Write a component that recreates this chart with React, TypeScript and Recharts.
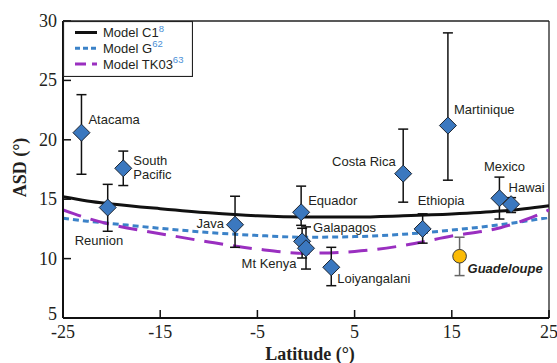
import React from "react";
import {
  ComposedChart,
  ErrorBar,
  Legend,
  Line,
  ReferenceLine,
  Scatter,
  XAxis,
  YAxis,
} from "recharts";

// latitude grid for the model curves
const latGrid = [-25, -22.5, -20, -15, -10, -5, 0, 5, 10, 15, 20, 22.5, 25];
const modelC1 = [15.2, 14.85, 14.6, 14.2, 13.85, 13.6, 13.5, 13.5, 13.6, 13.75, 14.0, 14.2, 14.45];
const modelG = [13.4, 13.15, 12.95, 12.55, 12.2, 11.95, 11.8, 11.85, 12.05, 12.4, 12.85, 13.15, 13.45];
const modelTK03 = [14.1, 13.4, 12.85, 12.1, 11.4, 10.8, 10.45, 10.6, 11.1, 11.9, 12.6, 13.25, 14.1];

// sites
const siteNames = [
  "Atacama", "South Pacific", "Reunion", "Java", "Equador", "Galapagos", "Mt Kenya",
  "Loiyangalani", "Ethiopia", "Costa Rica", "Martinique", "Mexico", "Hawai",
];
const siteLat = [-23.1, -18.8, -20.4, -7.3, -0.5, -0.4, 0.0, 2.6, 12.0, 10.0, 14.6, 19.9, 21.1];
const siteAsd = [20.6, 17.6, 14.3, 12.85, 13.9, 11.45, 10.87, 9.27, 12.5, 17.15, 21.2, 15.08, 14.58];
const siteErrLow = [3.5, 1.45, 2.0, 1.9, 1.1, 1.4, 1.75, 1.55, 1.2, 2.4, 4.6, 1.75, 0.7];
const siteErrHigh = [3.2, 1.45, 1.95, 2.4, 2.2, 1.1, 1.8, 1.68, 1.27, 3.75, 7.8, 1.78, 0.55];

// this study
const newSiteName = "Guadeloupe";
const newSiteLat = 15.8;
const newSiteAsd = 10.2;
const newSiteErr = [1.63, 1.6];

const xTicks = [-25, -15, -5, 5, 15, 25];
const yTicks = [5, 10, 15, 20, 25, 30];

const modelRefs: Record<string, string> = {
  "Model C1": "8",
  "Model G": "62",
  "Model TK03": "63",
};

const curve = (vals: number[]) => latGrid.map((lat, i) => ({ lat, asd: vals[i] }));
const siteData = siteNames.map((name, i) => ({
  name,
  lat: siteLat[i],
  asd: siteAsd[i],
  err: [siteErrLow[i], siteErrHigh[i]],
}));
const newSiteData = [{ name: newSiteName, lat: newSiteLat, asd: newSiteAsd, err: newSiteErr }];

const SANS = "Liberation Sans, Arial, sans-serif";
const SERIF = "Liberation Serif, Times New Roman, serif";
const INK = "#231f20";

// label placement relative to the marker
const labelLayout: Record<string, { dx: number; dy: number; anchor?: string; lines?: string[] }> = {
  Atacama: { dx: 7, dy: -13 },
  "South Pacific": { dx: 10, dy: -7.5, lines: ["South", "Pacific"] },
  Reunion: { dx: -33, dy: 33 },
  Java: { dx: -11, dy: -1, anchor: "end" },
  Equador: { dx: 7, dy: -12 },
  Galapagos: { dx: 11, dy: -13.5 },
  "Mt Kenya": { dx: -9.5, dy: 15, anchor: "end" },
  Loiyangalani: { dx: 6, dy: 11 },
  Ethiopia: { dx: -5, dy: -28.5 },
  "Costa Rica": { dx: -7.5, dy: -12, anchor: "end" },
  Martinique: { dx: 6, dy: -16 },
  Mexico: { dx: -15.5, dy: -31.5 },
  Hawai: { dx: -2.5, dy: -17 },
};

const SiteMarker = (props: any) => {
  const { cx, cy, payload } = props;
  const r = 8.5;
  const lay = labelLayout[payload.name] || { dx: 8, dy: 0 };
  const lines = lay.lines || [payload.name];
  const tx = cx + lay.dx;
  return (
    <g>
      <polygon
        points={`${cx},${cy - r} ${cx + r},${cy} ${cx},${cy + r} ${cx - r},${cy}`}
        fill="#3b78bf"
        stroke="#1c2430"
        strokeWidth={1}
      />
      {lines.map((t, i) => (
        <text
          key={t}
          x={tx}
          y={cy + lay.dy + 4.5 + i * 14}
          textAnchor={lay.anchor || "start"}
          fontFamily={SANS}
          fontSize={13}
          fill={INK}
        >
          {t}
        </text>
      ))}
    </g>
  );
};

const NewSiteMarker = (props: any) => {
  const { cx, cy, payload } = props;
  return (
    <g>
      <circle cx={cx} cy={cy} r={6.8} fill="#fbbb06" stroke="#3a3a3a" strokeWidth={1} />
      <text
        x={cx + 8}
        y={cy + 17}
        fontFamily={SANS}
        fontSize={13}
        fontWeight="bold"
        fontStyle="italic"
        fill={INK}
      >
        {payload.name}
      </text>
    </g>
  );
};

const YTick = ({ x, y, payload }: any) => (
  <g>
    <line x1={x} y1={y} x2={x + 8} y2={y} stroke="#111" strokeWidth={1.5} />
    <text
      x={x - 6}
      y={y + (payload.value === 5 ? 2 : 6)}
      textAnchor="end"
      fontFamily={SERIF}
      fontSize={18}
      fill={INK}
    >
      {payload.value}
    </text>
  </g>
);

const XTick = ({ x, y, payload }: any) => (
  <g>
    <line x1={x} y1={y} x2={x} y2={y - 8} stroke="#111" strokeWidth={1.5} />
    <text x={x} y={y + 19.5} textAnchor="middle" fontFamily={SERIF} fontSize={18} fill={INK}>
      {payload.value}
    </text>
  </g>
);

const dashFor: Record<string, string | undefined> = {
  "Model C1": undefined,
  "Model G": "5 3",
  "Model TK03": "11 6",
};

const ModelLegend = ({ payload }: any) => {
  const items = (payload || []).filter((p: any) => modelRefs[p.value] !== undefined);
  return (
    <svg width={130} height={56} style={{ display: "block" }}>
      <rect x={0.5} y={0.5} width={129} height={55} fill="#fff" stroke="#222" strokeWidth={1.2} />
      {items.map((p: any, i: number) => {
        const cy = 11.5 + i * 15.8;
        return (
          <g key={p.value}>
            <line
              x1={12}
              x2={34}
              y1={cy}
              y2={cy}
              stroke={p.color}
              strokeWidth={3}
              strokeDasharray={dashFor[p.value]}
            />
            <text x={40} y={cy + 4.6} fontFamily={SANS} fontSize={13} fill={INK}>
              {p.value}
              <tspan dy={-5.5} fontSize={9.5} fill="#4a8fd6">
                {modelRefs[p.value]}
              </tspan>
            </text>
          </g>
        );
      })}
    </svg>
  );
};

export default function App() {
  return (
    <div style={{ position: "absolute", left: 0, top: 0, width: 557, height: 363, background: "#fff" }}>
      <ComposedChart width={557} height={363} margin={{ top: 21, right: 8, bottom: 0, left: 0 }}>
        <XAxis
          dataKey="lat"
          type="number"
          domain={[-25, 25]}
          ticks={xTicks}
          allowDataOverflow
          height={45}
          axisLine={{ stroke: "#111", strokeWidth: 2 }}
          tickLine={false}
          tickSize={0}
          tickMargin={0}
          tick={<XTick />}
          label={{
            content: ({ viewBox }: any) => (
              <text
                x={viewBox.x + viewBox.width / 2 + 4}
                y={viewBox.y + 42}
                textAnchor="middle"
                fontFamily={SERIF}
                fontWeight="bold"
                fontSize={18}
                fill={INK}
              >
                Latitude (°)
              </text>
            ),
          }}
        />
        <YAxis
          dataKey="asd"
          type="number"
          domain={[5, 30]}
          ticks={yTicks}
          allowDataOverflow
          width={63}
          axisLine={{ stroke: "#111", strokeWidth: 2 }}
          tickLine={false}
          tickSize={0}
          tickMargin={0}
          tick={<YTick />}
          label={{
            content: ({ viewBox }: any) => {
              const cx = viewBox.x + 20;
              const cy = viewBox.y + viewBox.height / 2 - 2;
              return (
                <text
                  x={cx}
                  y={cy}
                  transform={`rotate(-90 ${cx} ${cy})`}
                  textAnchor="middle"
                  dominantBaseline="central"
                  fontFamily={SERIF}
                  fontWeight="bold"
                  fontSize={18}
                  fill={INK}
                >
                  ASD (°)
                </text>
              );
            },
          }}
        />
        <ReferenceLine x={25} stroke="#222" strokeWidth={1.3} />
        <ReferenceLine y={30} stroke="#222" strokeWidth={1.3} />
        <Line
          data={curve(modelC1)}
          dataKey="asd"
          name="Model C1"
          type="monotone"
          stroke="#111"
          strokeWidth={3}
          dot={false}
          legendType="line"
          isAnimationActive={false}
        />
        <Line
          data={curve(modelG)}
          dataKey="asd"
          name="Model G"
          type="monotone"
          stroke="#3b82c8"
          strokeWidth={3}
          strokeDasharray="6 4"
          dot={false}
          legendType="line"
          isAnimationActive={false}
        />
        <Line
          data={curve(modelTK03)}
          dataKey="asd"
          name="Model TK03"
          type="monotone"
          stroke="#9a2fc0"
          strokeWidth={3}
          strokeDasharray="19 10"
          dot={false}
          legendType="line"
          isAnimationActive={false}
        />
        <Scatter
          data={siteData}
          dataKey="asd"
          name="Sites"
          legendType="none"
          shape={<SiteMarker />}
          isAnimationActive={false}
        >
          <ErrorBar dataKey="err" direction="y" width={5} stroke="#111" strokeWidth={1.5} />
        </Scatter>
        <Scatter
          data={newSiteData}
          dataKey="asd"
          name={newSiteName}
          legendType="none"
          shape={<NewSiteMarker />}
          isAnimationActive={false}
        >
          <ErrorBar dataKey="err" direction="y" width={5} stroke="#666" strokeWidth={1.5} />
        </Scatter>
        <Legend
          layout="vertical"
          align="center"
          verticalAlign="middle"
          wrapperStyle={{ left: 63, top: 21, width: 130, height: 56, margin: 0, padding: 0 }}
          content={<ModelLegend />}
        />
      </ComposedChart>
    </div>
  );
}
